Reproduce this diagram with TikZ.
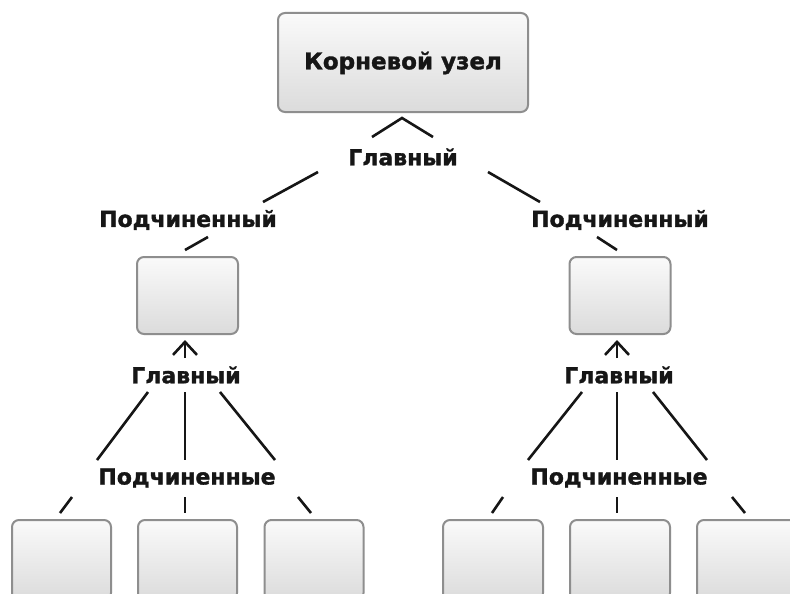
\documentclass[tikz,border=0pt]{standalone}
\usepackage{fontspec}
\setmainfont{DejaVu Sans}[BoldFeatures={FakeBold=1.5}]
\usetikzlibrary{arrows.meta,shadows}
\definecolor{lnc}{HTML}{161616}
\definecolor{bordc}{HTML}{8E8E8E}
\tikzset{
  box/.style={draw=bordc, line width=2pt, rounded corners=7pt, top color=black!2, bottom color=black!14, inner sep=0pt},
  lbl/.style={font=\bfseries\fontsize{22}{22}\selectfont, text=lnc, inner sep=0pt},
  conn/.style={draw=lnc, line width=2.6pt},
  uparrow/.style={conn, -{Straight Barb[length=13pt,width=24pt,line width=2.6pt]}}
}
\begin{document}
\begin{tikzpicture}[x=1pt,y=-1pt]
\useasboundingbox (0,0) rectangle (790,594);
\fill[white] (0,0) rectangle (790,594);
\begin{scope}
\clip (0,0) rectangle (790,594);
% boxes
\node[box, minimum width=250pt, minimum height=99pt] (root) at (403,62.5) {};
\node[lbl, font=\bfseries\fontsize{23}{23}\selectfont] (roottxt) at (403,63) {Корневой узел};
\node[box, minimum width=101pt, minimum height=77pt] (ml) at (187.5,295.5) {};
\node[box, minimum width=101pt, minimum height=77pt] (mr) at (620,295.5) {};
\node[box, minimum width=99pt, minimum height=80pt] (b1) at (61.5,560) {};
\node[box, minimum width=99pt, minimum height=80pt] (b2) at (187.5,560) {};
\node[box, minimum width=99pt, minimum height=80pt] (b3) at (314,560) {};
\node[box, minimum width=100pt, minimum height=80pt] (b4) at (493,560) {};
\node[box, minimum width=100pt, minimum height=80pt] (b5) at (620,560) {};
\node[box, minimum width=100pt, minimum height=80pt] (b6) at (747,560) {};
\end{scope}
% labels
\node[lbl] (g0) at (403,157) {Главный};
\node[lbl] (sl) at (188,220) {Подчиненный};
\node[lbl] (sr) at (620,220) {Подчиненный};
\node[lbl] (gl) at (186,375) {Главный};
\node[lbl] (gr) at (619,375) {Главный};
\node[lbl] (pl) at (187,478) {Подчиненные};
\node[lbl] (pr) at (619,478) {Подчиненные};
% coordinates for connector ends
\coordinate (c0a) at (372,137); \coordinate (c0t) at (402,118); \coordinate (c0b) at (433,137);
\coordinate (l1a) at (318,172); \coordinate (l1b) at (263,202);
\coordinate (r1a) at (488,172); \coordinate (r1b) at (540,202);
\coordinate (l2a) at (208,237); \coordinate (l2b) at (185,250);
\coordinate (r2a) at (597,237); \coordinate (r2b) at (617,250);
% top chevron
\draw[conn, line join=miter] (c0a) -- (c0t) -- (c0b);
\draw[conn] (l1a) -- (l1b);
\draw[conn] (r1a) -- (r1b);
\draw[conn] (l2a) -- (l2b);
\draw[conn] (r2a) -- (r2b);
% up arrows
\coordinate (al) at (185,358); \coordinate (ar) at (617,358);
\coordinate (alt) at (185,340); \coordinate (art) at (617,340);
\draw[uparrow] (al) -- (alt);
\draw[uparrow] (ar) -- (art);
% left fan
\coordinate (la1) at (148,392); \coordinate (lb1) at (97,460);
\coordinate (la2) at (185,392); \coordinate (lb2) at (185,460);
\coordinate (la3) at (220,392); \coordinate (lb3) at (275,460);
\draw[conn] (la1) -- (lb1);
\draw[conn] (la2) -- (lb2);
\draw[conn] (la3) -- (lb3);
\coordinate (ls1) at (72,497); \coordinate (le1) at (60,513);
\coordinate (ls2) at (185,497); \coordinate (le2) at (185,513);
\coordinate (ls3) at (298,497); \coordinate (le3) at (311,513);
\draw[conn] (ls1) -- (le1);
\draw[conn] (ls2) -- (le2);
\draw[conn] (ls3) -- (le3);
% right fan
\coordinate (ra1) at (582,392); \coordinate (rb1) at (528,460);
\coordinate (ra2) at (617,392); \coordinate (rb2) at (617,460);
\coordinate (ra3) at (653,392); \coordinate (rb3) at (707,460);
\draw[conn] (ra1) -- (rb1);
\draw[conn] (ra2) -- (rb2);
\draw[conn] (ra3) -- (rb3);
\coordinate (rs1) at (503,497); \coordinate (re1) at (492,513);
\coordinate (rs2) at (617,497); \coordinate (re2) at (617,513);
\coordinate (rs3) at (732,497); \coordinate (re3) at (745,513);
\draw[conn] (rs1) -- (re1);
\draw[conn] (rs2) -- (re2);
\draw[conn] (rs3) -- (re3);
\end{tikzpicture}
\end{document}
